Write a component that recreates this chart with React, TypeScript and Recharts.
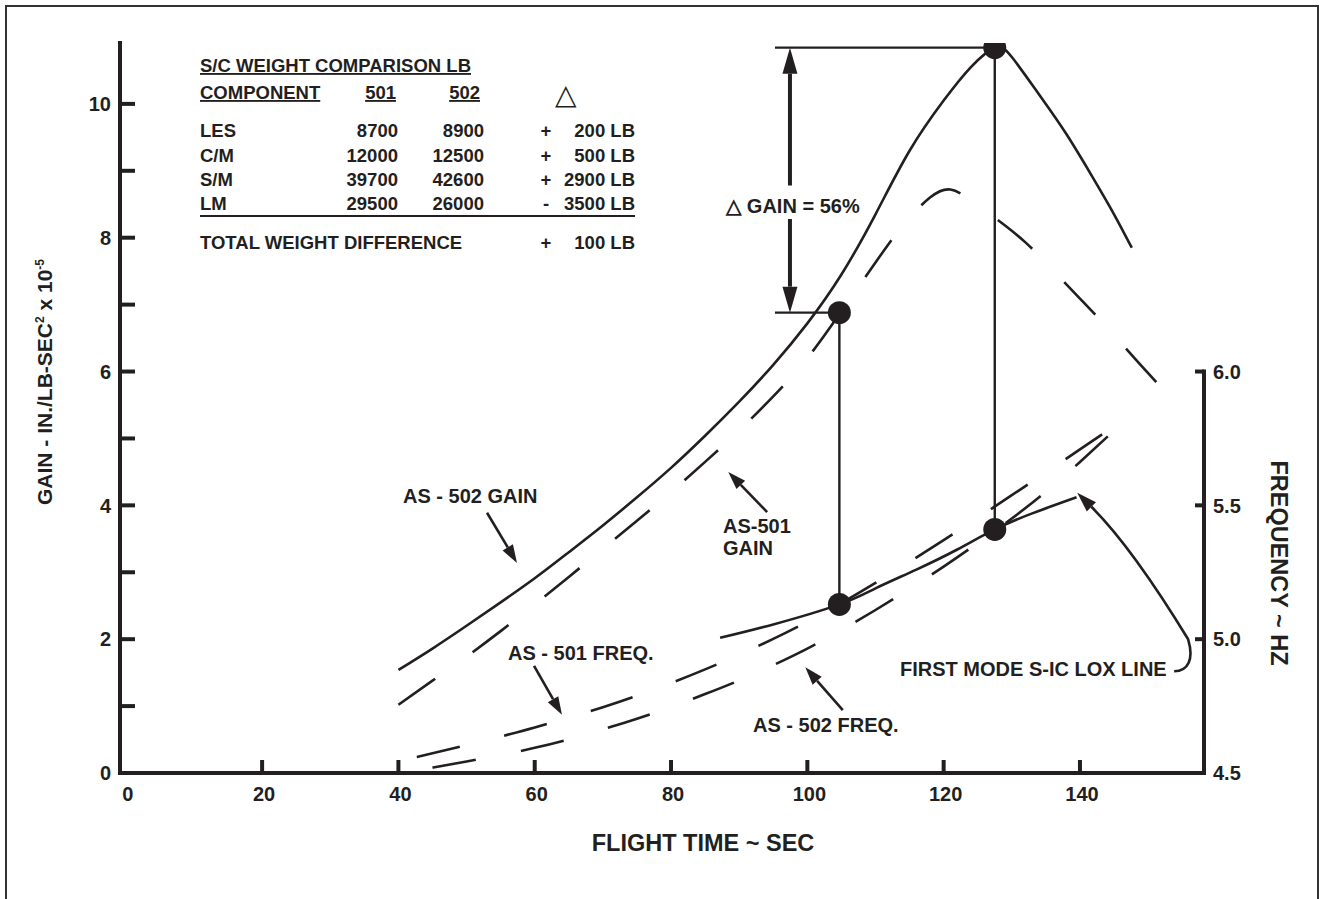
import React from "react";
import {
  ComposedChart,
  Line,
  Scatter,
  XAxis,
  YAxis,
  ReferenceLine,
} from "recharts";

const INK = "#231f20";
const FONT = '"Liberation Sans", Arial, Helvetica, sans-serif';

// axis ranges
const X_MIN = -0.85;
const X_MAX = 158.2;
const GAIN_MAX = 10.91;
const FREQ_MIN = 4.5;
const GAIN_PER_HZ = 4; // right scale: 1.5 Hz over 6 gain units
const FREQ_MAX = FREQ_MIN + GAIN_MAX / GAIN_PER_HZ;
const gainToFreq = (g: number) => FREQ_MIN + g / GAIN_PER_HZ;

const timeTicks = [0, 20, 40, 60, 80, 100, 120, 140];
const gainTicks = [0, 1, 2, 3, 4, 5, 6, 7, 8, 9, 10];
const freqTicks = [4.5, 5, 5.5, 6];

// AS-502 gain (solid)
const gain502Time = [40, 45, 50, 55, 60, 65, 70, 75, 80, 85, 90, 95, 100, 105, 110, 115, 120, 124, 127.5, 130, 134, 138, 142, 145, 147.6];
const gain502 = [1.54, 1.86, 2.2, 2.55, 2.91, 3.3, 3.7, 4.12, 4.56, 5.04, 5.55, 6.1, 6.72, 7.45, 8.35, 9.3, 10.05, 10.55, 10.84, 10.7, 10.14, 9.55, 8.88, 8.35, 7.85];

// AS-501 gain (long dash)
const gain501Time = [40, 45, 50, 55, 60, 65, 70, 75, 80, 85, 90, 95, 100, 105, 110, 114, 118, 121, 124, 128, 132, 136, 140, 144, 148, 152.5];
const gain501 = [1.02, 1.38, 1.74, 2.12, 2.52, 2.93, 3.35, 3.77, 4.2, 4.65, 5.12, 5.63, 6.2, 6.9, 7.63, 8.18, 8.6, 8.72, 8.56, 8.26, 7.93, 7.52, 7.09, 6.66, 6.2, 5.7];

// AS-501 frequency (dash, right scale)
const freq501Time = [42.7, 50, 55, 60, 65, 70, 75, 80, 85, 90, 95, 100, 105, 110, 115, 120, 125, 130, 135, 140, 145.9];
const freq501 = [4.56, 4.604, 4.636, 4.67, 4.707, 4.746, 4.789, 4.836, 4.887, 4.942, 5.001, 5.065, 5.135, 5.21, 5.289, 5.37, 5.453, 5.538, 5.623, 5.709, 5.811];

// AS-502 frequency (dash, right scale)
const freq502Time = [45, 50, 55, 60, 65, 70, 75, 80, 85, 90, 95, 100, 105, 110, 115, 120, 125, 130, 135, 140, 146.3];
const freq502 = [4.52, 4.543, 4.567, 4.594, 4.626, 4.663, 4.703, 4.747, 4.795, 4.846, 4.903, 4.965, 5.034, 5.109, 5.188, 5.271, 5.359, 5.451, 5.551, 5.662, 5.81];

// first mode S-IC LOX line (solid, right scale)
const loxTime = [87.2, 95, 104.7, 110, 116, 122, 127.5, 133, 139.5];
const loxFreq = [5.005, 5.055, 5.13, 5.19, 5.26, 5.335, 5.41, 5.47, 5.53];

// marked points: 501 gain where 501 freq meets LOX line, 502 gain peak where 502 freq meets it
const markTime = [104.7, 127.5];
const markGain = [6.88, 10.84];
const markFreq = [5.13, 5.41];

// weight table
const components = ["LES", "C/M", "S/M", "LM"];
const weight501 = [8700, 12000, 39700, 29500];
const weight502 = [8900, 12500, 42600, 26000];
const totalDiff = 100;

const toPoints = (xs: number[], ys: number[]) => xs.map((x, i) => ({ x, y: ys[i] }));

const txt = { fontFamily: FONT, fontWeight: 700, fill: INK } as const;

const TimeTick = (p: any) => {
  const { x, y, payload } = p;
  return (
    <g>
      {payload.value > 0 && (
        <line x1={x} x2={x} y1={y} y2={y - 13} stroke={INK} strokeWidth={4} />
      )}
      <text x={x + 2} y={y + 28} textAnchor="middle" fontSize={20} {...txt}>
        {payload.value}
      </text>
    </g>
  );
};

const GainTick = (p: any) => {
  const { x, y, payload } = p;
  const v = payload.value;
  return (
    <g>
      {v > 0 && <line x1={x} x2={x + 15} y1={y} y2={y} stroke={INK} strokeWidth={4} />}
      {v % 2 === 0 && (
        <text x={x - 9} y={y} dy="0.36em" textAnchor="end" fontSize={20} {...txt}>
          {v}
        </text>
      )}
    </g>
  );
};

const FreqTick = (p: any) => {
  const { x, y, payload } = p;
  return (
    <g>
      <line x1={x - 9} x2={x} y1={y} y2={y} stroke={INK} strokeWidth={4} />
      <text x={x + 9} y={y} dy="0.36em" textAnchor="start" fontSize={20} {...txt}>
        {payload.value.toFixed(1)}
      </text>
    </g>
  );
};

const MarkDot = (p: any) => <circle cx={p.cx} cy={p.cy} r={11.5} fill={INK} />;

// straight arrow, head at the second point
const arrow = (head: number, half: number, width: number) => (p: any) => {
  const { x1, y1, x2, y2 } = p;
  const L = Math.hypot(x2 - x1, y2 - y1) || 1;
  const ux = (x2 - x1) / L;
  const uy = (y2 - y1) / L;
  const bx = x2 - ux * head;
  const by = y2 - uy * head;
  return (
    <g>
      <line x1={x1} y1={y1} x2={bx} y2={by} stroke={INK} strokeWidth={width} />
      <polygon
        points={`${x2},${y2} ${bx - uy * half},${by + ux * half} ${bx + uy * half},${by - ux * half}`}
        fill={INK}
      />
    </g>
  );
};

// curved leader from the LOX label up to the line
const curvedArrow = (p: any) => {
  const { x1, y1, x2, y2 } = p;
  const hx = x1 + 8;
  const hy = y1 - 30;
  const cx = x2 + 55;
  const cy = y2 + 55;
  const L = Math.hypot(x2 - cx, y2 - cy);
  const ux = (x2 - cx) / L;
  const uy = (y2 - cy) / L;
  const bx = x2 - ux * 20;
  const by = y2 - uy * 20;
  const half = 6.5;
  return (
    <g>
      <path
        d={`M ${x1 - 6} ${y1 + 2} C ${x1 + 8} ${y1 + 2} ${x1 + 14} ${y1 - 10} ${hx} ${hy} Q ${cx} ${cy} ${bx} ${by}`}
        fill="none"
        stroke={INK}
        strokeWidth={2.6}
      />
      <polygon
        points={`${x2},${y2} ${bx - uy * half},${by + ux * half} ${bx + uy * half},${by - ux * half}`}
        fill={INK}
      />
    </g>
  );
};

const Overlay = () => {
  const rowY = [137, 162, 186, 210];
  return (
    <svg
      width={1320}
      height={899}
      style={{ position: "absolute", left: 0, top: 0, pointerEvents: "none" }}
    >
      <rect x={6} y={6} width={1312} height={920} fill="none" stroke="#333" strokeWidth={2} />

      {/* weight table */}
      <g fontSize={18.5} {...txt}>
        <text x={200} y={72} style={{ textDecoration: "underline" }}>S/C WEIGHT COMPARISON LB</text>
        <text x={200} y={99} style={{ textDecoration: "underline" }}>COMPONENT</text>
        <text x={396} y={99} textAnchor="end" style={{ textDecoration: "underline" }}>501</text>
        <text x={480} y={99} textAnchor="end" style={{ textDecoration: "underline" }}>502</text>
        <text x={566} y={104} textAnchor="middle" fontSize={28} fontWeight={400}>△</text>
        {components.map((c, i) => {
          const d = weight502[i] - weight501[i];
          return (
            <g key={c}>
              <text x={200} y={rowY[i]}>{c}</text>
              <text x={398} y={rowY[i]} textAnchor="end">{weight501[i]}</text>
              <text x={484} y={rowY[i]} textAnchor="end">{weight502[i]}</text>
              <text x={546} y={rowY[i]} textAnchor="middle">{d >= 0 ? "+" : "-"}</text>
              <text x={635} y={rowY[i]} textAnchor="end">{`${Math.abs(d)} LB`}</text>
            </g>
          );
        })}
        <line x1={200} x2={635} y1={216} y2={216} stroke={INK} strokeWidth={2} />
        <text x={200} y={249}>TOTAL WEIGHT DIFFERENCE</text>
        <text x={546} y={249} textAnchor="middle">+</text>
        <text x={635} y={249} textAnchor="end">{`${totalDiff} LB`}</text>
      </g>

      {/* axis titles */}
      <text x={703} y={851} textAnchor="middle" fontSize={23.5} {...txt}>FLIGHT TIME ~ SEC</text>
      <text
        transform="translate(52,382) rotate(-90)"
        textAnchor="middle"
        fontSize={21}
        {...txt}
      >
        GAIN - IN./LB-SEC
        <tspan fontSize={12} dy={-8}>2</tspan>
        <tspan dy={8}> x 10</tspan>
        <tspan fontSize={12} dy={-8}>-5</tspan>
      </text>
      <text
        transform="translate(1271,563) rotate(90)"
        textAnchor="middle"
        fontSize={23.5}
        {...txt}
      >
        FREQUENCY ~ HZ
      </text>

      {/* curve labels */}
      <g fontSize={20} {...txt}>
        <text x={403} y={503}>AS - 502 GAIN</text>
        <text x={723} y={533}>AS-501</text>
        <text x={723} y={555}>GAIN</text>
        <text x={508} y={660}>AS - 501 FREQ.</text>
        <text x={753} y={732}>AS - 502 FREQ.</text>
        <text x={900} y={676}>FIRST MODE S-IC LOX LINE</text>
        <text x={793} y={213} textAnchor="middle">△ GAIN = 56%</text>
      </g>
    </svg>
  );
};

export default function App() {
  const deltaX = 97.45;
  const leftX = 95.25;
  const curve = { stroke: INK, strokeWidth: 2.6, dot: false, isAnimationActive: false } as const;
  return (
    <div style={{ position: "absolute", left: 0, top: 0, width: 1320, height: 899, background: "#fff" }}>
      <ComposedChart width={1320} height={899} margin={{ top: 43, right: 36, bottom: 66, left: 20 }}>
        <XAxis
          type="number"
          dataKey="x"
          domain={[X_MIN, X_MAX]}
          ticks={timeTicks}
          interval={0}
          allowDataOverflow
          height={60}
          tickSize={0}
          tickMargin={0}
          tickLine={false}
          axisLine={{ stroke: INK, strokeWidth: 4, strokeLinecap: "square" }}
          tick={(p: any) => <TimeTick {...p} />}
        />
        <YAxis
          yAxisId="gain"
          type="number"
          domain={[0, GAIN_MAX]}
          ticks={gainTicks}
          interval={0}
          allowDataOverflow
          width={100}
          tickSize={0}
          tickMargin={0}
          tickLine={false}
          axisLine={{ stroke: INK, strokeWidth: 4, strokeLinecap: "square" }}
          tick={(p: any) => <GainTick {...p} />}
        />
        <YAxis
          yAxisId="freq"
          orientation="right"
          type="number"
          domain={[FREQ_MIN, FREQ_MAX]}
          ticks={freqTicks}
          interval={0}
          allowDataOverflow
          width={80}
          tickSize={0}
          tickMargin={0}
          tickLine={false}
          axisLine={false}
          tick={(p: any) => <FreqTick {...p} />}
        />

        {/* right frequency axis spans 4.5 to 6.0 only */}
        <ReferenceLine
          yAxisId="freq"
          segment={[{ x: X_MAX, y: FREQ_MIN }, { x: X_MAX, y: 6 }]}
          stroke={INK}
          strokeWidth={4}
          strokeLinecap="square"
          ifOverflow="visible"
        />

        <Line data={toPoints(gain502Time, gain502)} dataKey="y" yAxisId="gain" type="natural" {...curve} />
        <Line data={toPoints(gain501Time, gain501)} dataKey="y" yAxisId="gain" type="natural" strokeDasharray="45 46" {...curve} />
        <Line data={toPoints(freq501Time, freq501)} dataKey="y" yAxisId="freq" type="natural" strokeDasharray="44 46" {...curve} />
        <Line data={toPoints(freq502Time, freq502)} dataKey="y" yAxisId="freq" type="natural" strokeDasharray="44 46" {...curve} />
        <Line data={toPoints(loxTime, loxFreq)} dataKey="y" yAxisId="freq" type="natural" {...curve} />

        {/* delta gain construction */}
        <ReferenceLine yAxisId="gain" segment={[{ x: leftX, y: markGain[1] }, { x: markTime[1], y: markGain[1] }]} stroke={INK} strokeWidth={2.2} />
        <ReferenceLine yAxisId="gain" segment={[{ x: leftX, y: markGain[0] }, { x: markTime[0], y: markGain[0] }]} stroke={INK} strokeWidth={2.2} />
        <ReferenceLine yAxisId="gain" segment={[{ x: deltaX, y: 8.78 }, { x: deltaX, y: markGain[1] }]} shape={arrow(26, 7.5, 4)} />
        <ReferenceLine yAxisId="gain" segment={[{ x: deltaX, y: 8.28 }, { x: deltaX, y: markGain[0] }]} shape={arrow(26, 7.5, 4)} />
        {markTime.map((t, i) => (
          <ReferenceLine
            key={t}
            yAxisId="freq"
            segment={[{ x: t, y: gainToFreq(markGain[i]) }, { x: t, y: markFreq[i] }]}
            stroke={INK}
            strokeWidth={2.4}
          />
        ))}

        {/* label leaders */}
        <ReferenceLine yAxisId="gain" segment={[{ x: 53.0, y: 3.89 }, { x: 57.4, y: 3.14 }]} shape={arrow(18, 6, 2.6)} />
        <ReferenceLine yAxisId="gain" segment={[{ x: 94.1, y: 3.9 }, { x: 88.4, y: 4.5 }]} shape={arrow(18, 6, 2.6)} />
        <ReferenceLine yAxisId="gain" segment={[{ x: 59.9, y: 1.6 }, { x: 64.0, y: 0.87 }]} shape={arrow(18, 6, 2.6)} />
        <ReferenceLine yAxisId="gain" segment={[{ x: 105.2, y: 0.94 }, { x: 99.7, y: 1.58 }]} shape={arrow(18, 6, 2.6)} />
        <ReferenceLine yAxisId="gain" segment={[{ x: 154.7, y: 1.55 }, { x: 139.6, y: 4.19 }]} shape={curvedArrow} />

        <Scatter data={toPoints(markTime, markGain)} dataKey="y" yAxisId="gain" shape={MarkDot} isAnimationActive={false} />
        <Scatter data={toPoints(markTime, markFreq)} dataKey="y" yAxisId="freq" shape={MarkDot} isAnimationActive={false} />
      </ComposedChart>
      <Overlay />
    </div>
  );
}
